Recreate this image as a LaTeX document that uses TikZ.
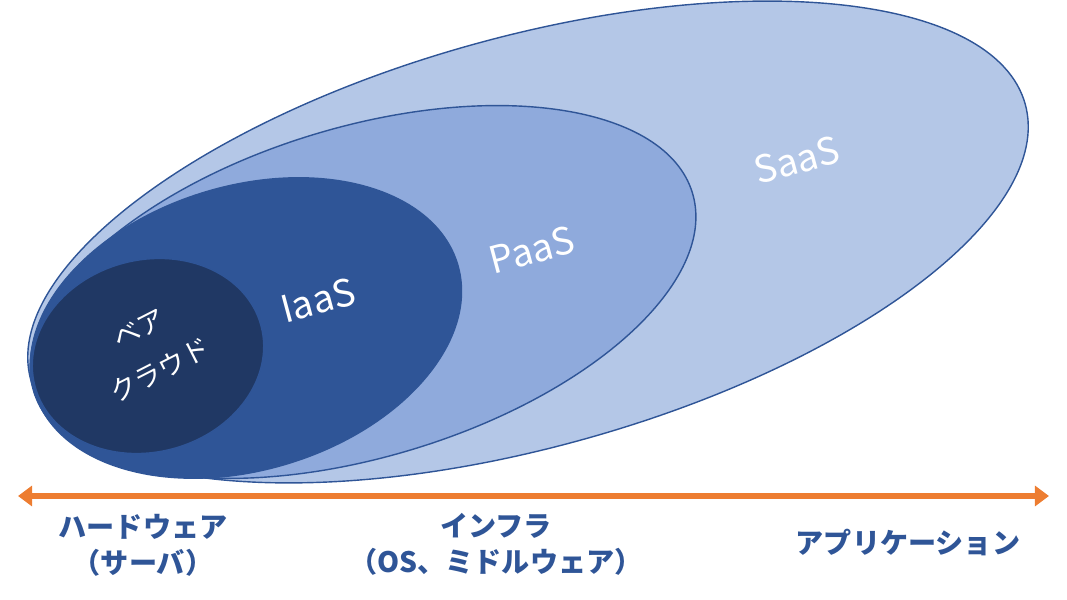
\documentclass[tikz,border=0pt]{standalone}
\usepackage{fontspec}
\usepackage{tikz}
\usetikzlibrary{arrows.meta,positioning}
\newfontfamily\jpfont{Noto Sans CJK JP}
\definecolor{saasblue}{RGB}{180,199,231}
\definecolor{paasblue}{RGB}{143,170,220}
\definecolor{iaasblue}{RGB}{47,85,151}
\definecolor{bareblue}{RGB}{32,56,100}
\definecolor{edgeblue}{RGB}{47,85,151}
\definecolor{axisorange}{RGB}{237,125,49}
\tikzset{
  layer/.style={draw=edgeblue, line width=1.2pt},
  inlabel/.style={text=white, inner sep=1pt, font=\jpfont\fontsize{32}{36}\selectfont},
  axislabel/.style={text=iaasblue, align=center, font=\jpfont\bfseries\fontsize{24}{31}\selectfont}
}

\begin{document}
\begin{tikzpicture}[x=0.03cm, y=0.03cm]
  \useasboundingbox (0,0) rectangle (1067,600);
  % Nested service layers
  \fill[saasblue, layer] (528,358) ellipse [x radius=516, y radius=205, rotate=15.5];
  \fill[paasblue, layer] (363,308) ellipse [x radius=344, y radius=165, rotate=16.7];
  \fill[iaasblue, layer] (246,272) ellipse [x radius=221, y radius=142, rotate=16.8];
  \fill[bareblue, layer] (148,244) ellipse [x radius=117, y radius=96, rotate=15];
  % Layer names
  \node[inlabel, rotate=15] (saas) at (797,440) {SaaS};
  \node[inlabel, rotate=15] (paas) at (532,350) {PaaS};
  \node[inlabel, rotate=15] (iaas) at (318,300) {IaaS};
  \node[inlabel, rotate=27, align=center, font=\jpfont\fontsize{23}{40}\selectfont] (bare) at (150,250) {ベア\\クラウド};
  % Axis
  \coordinate (axisleft) at (18,104);
  \coordinate (axisright) at (1049,104);
  \draw[axisorange, line width=4.5pt, {Triangle[length=12pt,width=17pt]}-{Triangle[length=12pt,width=17pt]}] (axisleft) -- (axisright);
  \node[axislabel] (hw) at (143,55) {ハードウェア\\（サーバ）};
  \node[axislabel] (infra) at (496,56) {インフラ\\（OS、ミドルウェア）};
  \node[axislabel] (app) at (908,57) {アプリケーション};
\end{tikzpicture}
\end{document}
